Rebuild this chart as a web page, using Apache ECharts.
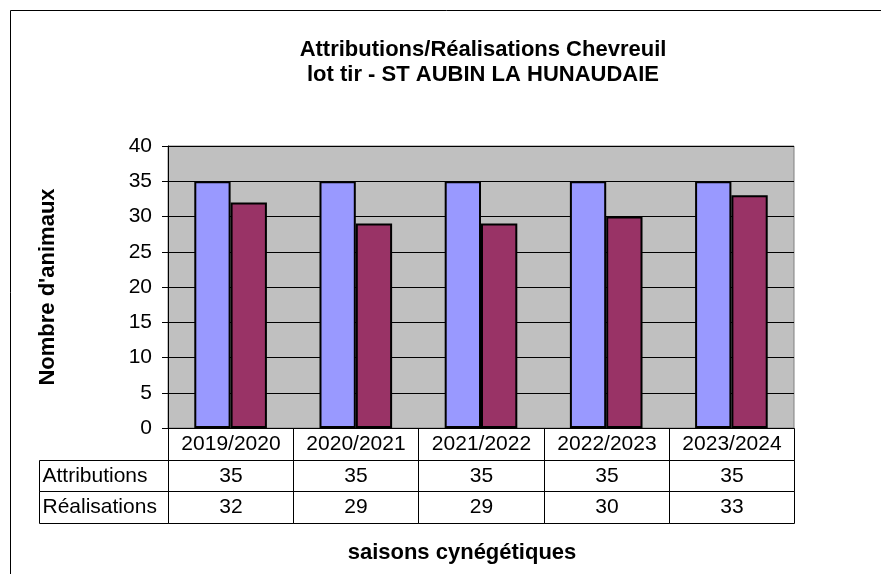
<!DOCTYPE html>
<html>
<head>
<meta charset="utf-8">
<script src="https://cdn.jsdelivr.net/npm/echarts@6/dist/echarts.min.js"></script>
<style>
  html, body { margin: 0; padding: 0; background: #fff; }
  #chart { width: 881px; height: 574px; }
</style>
</head>
<body>
<div id="chart"></div>
<script>
// data
const categories = ['2019/2020', '2020/2021', '2021/2022', '2022/2023', '2023/2024']
const attributions = [35, 35, 35, 35, 35]
const realisations = [32, 29, 29, 30, 33]
const seriesNames = ['Attributions', 'Réalisations']
const yTicks = { min: 0, max: 40, interval: 5 }

const FONT = '"Liberation Sans", Arial, sans-serif'
const labelColWidth = 1.03 // label column, in category widths

// table cells: [x0, x1, row, text, kind]
const tableCells = []
categories.forEach((c, i) => tableCells.push([i, i + 1, 0, c, 'head']))
const rows = [attributions, realisations]
rows.forEach((vals, r) => {
  tableCells.push([-labelColWidth, 0, r + 1, seriesNames[r], 'name'])
  vals.forEach((v, i) => tableCells.push([i, i + 1, r + 1, String(v), 'val']))
})

const chart = echarts.init(document.getElementById('chart'))

const option = {
  animation: false,
  backgroundColor: '#fff',
  textStyle: { fontFamily: FONT },
  title: [{
    text: 'Attributions/Réalisations Chevreuil\nlot tir - ST AUBIN LA HUNAUDAIE',
    left: 478,
    top: 32,
    textAlign: 'center',
    textStyle: { fontSize: 22, fontWeight: 'bold', color: '#000', lineHeight: 25, fontFamily: FONT }
  }, {
    text: 'saisons cynégétiques',
    left: 457,
    top: 537,
    textAlign: 'center',
    textStyle: { fontSize: 22, fontWeight: 'bold', color: '#000', fontFamily: FONT }
  }],
  graphic: [{
    type: 'rect',
    shape: { x: 10.5, y: 10.5, width: 900, height: 600 },
    style: { fill: 'none', stroke: '#000', lineWidth: 1 },
    silent: true
  }],
  grid: [{
    left: 168, top: 146, width: 626, height: 282,
    show: true, backgroundColor: '#C0C0C0', borderColor: '#808080', borderWidth: 1
  }, {
    left: 39, top: 428, width: 755, height: 95
  }],
  xAxis: [{
    gridIndex: 0,
    type: 'category',
    data: categories,
    axisLine: { lineStyle: { color: '#000', width: 1 } },
    axisTick: { show: false },
    axisLabel: { show: false }
  }, {
    gridIndex: 1,
    type: 'value',
    min: -labelColWidth,
    max: categories.length,
    show: false
  }],
  yAxis: [{
    gridIndex: 0,
    type: 'value',
    min: yTicks.min,
    max: yTicks.max,
    interval: yTicks.interval,
    name: "Nombre d'animaux",
    nameLocation: 'middle',
    nameRotate: 90,
    nameGap: 109,
    nameTextStyle: { fontSize: 22, fontWeight: 'bold', color: '#000', fontFamily: FONT },
    axisLine: { show: true, lineStyle: { color: '#000', width: 1 } },
    axisTick: { show: true, length: 6, lineStyle: { color: '#000' } },
    axisLabel: { fontSize: 21, color: '#000', margin: 16, fontFamily: FONT },
    splitLine: { show: true, lineStyle: { color: '#000', width: 1 } }
  }, {
    gridIndex: 1,
    type: 'value',
    min: 0,
    max: 3,
    inverse: true,
    show: false
  }],
  series: [{
    name: seriesNames[0],
    type: 'bar',
    xAxisIndex: 0, yAxisIndex: 0,
    data: attributions,
    barGap: '0%',
    barCategoryGap: '42%',
    itemStyle: { color: '#9999FF', borderColor: '#000', borderWidth: 2 }
  }, {
    name: seriesNames[1],
    type: 'bar',
    xAxisIndex: 0, yAxisIndex: 0,
    data: realisations,
    barGap: '0%',
    barCategoryGap: '42%',
    itemStyle: { color: '#993366', borderColor: '#000', borderWidth: 2 }
  }, {
    type: 'custom',
    xAxisIndex: 1, yAxisIndex: 1,
    data: tableCells,
    encode: { x: [0, 1], y: 2 },
    silent: true,
    z: 5,
    renderItem: function (params, api) {
      const x0 = api.value(0), x1 = api.value(1), r = api.value(2)
      const kind = tableCells[params.dataIndex][4]
      const text = tableCells[params.dataIndex][3]
      const p0 = api.coord([x0, r])
      const p1 = api.coord([x1, r + 1])
      const left = Math.round(p0[0]) + 0.5, right = Math.round(p1[0]) + 0.5
      const top = Math.round(p0[1]) + 0.5, bottom = Math.round(p1[1]) + 0.5
      return {
        type: 'group',
        children: [{
          type: 'rect',
          shape: { x: left, y: top, width: right - left, height: bottom - top },
          style: { fill: 'none', stroke: '#000', lineWidth: 1 }
        }, {
          type: 'text',
          style: {
            text: text,
            x: kind === 'name' ? left + 3 : (left + right) / 2,
            y: (top + bottom) / 2,
            align: kind === 'name' ? 'left' : 'center',
            verticalAlign: 'middle',
            font: '21px ' + FONT,
            fill: '#000'
          }
        }]
      }
    }
  }]
}

chart.setOption(option)
</script>
</body>
</html>
